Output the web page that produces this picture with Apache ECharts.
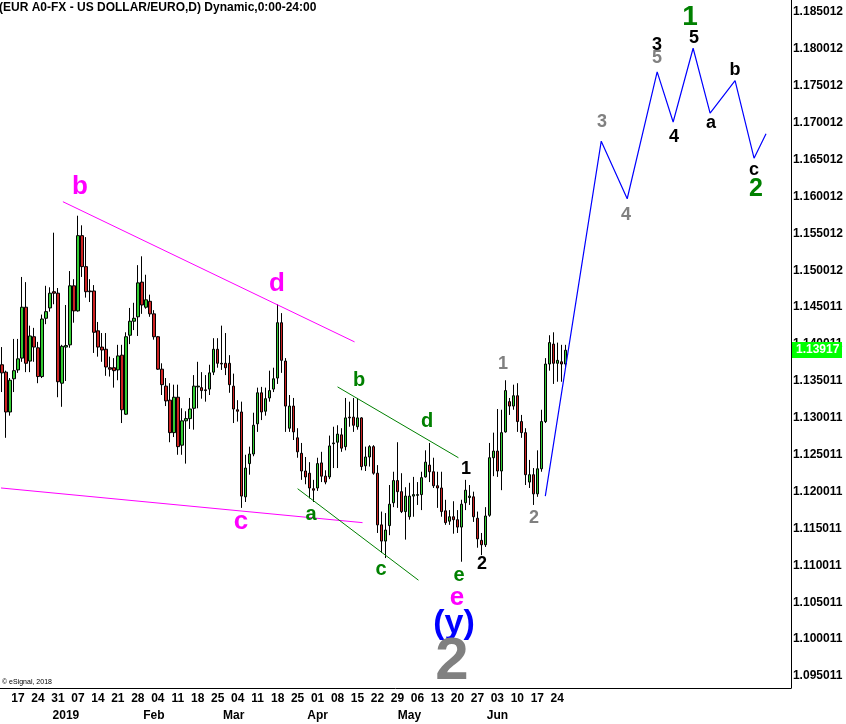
<!DOCTYPE html>
<html><head><meta charset="utf-8">
<script src="https://cdn.jsdelivr.net/npm/echarts@6/dist/echarts.min.js"></script>
<style>html,body{margin:0;padding:0;background:#fff}#c{width:846px;height:724px}</style>
</head><body><div id="c"></div>
<script>
// ---- DATA ----
// daily EUR/USD candles, Dec 11 2018 .. Jun 26 2019: [open, close, low, high]
const eurusdOHLC = [
[1.1372,1.1361,1.1335,1.1396],[1.1362,1.1308,1.1273,1.1364],[1.1308,1.1351,1.1303,1.1354],[1.1353,1.1364,1.1335,1.1407],
[1.1365,1.1380,1.1361,1.1407],[1.1381,1.1450,1.1376,1.1491],[1.1450,1.1374,1.1362,1.1484],[1.1377,1.1411,1.1362,1.1425],
[1.1410,1.1396,1.1376,1.1422],[1.1395,1.1356,1.1347,1.1403],[1.1356,1.1434,1.1354,1.1440],[1.1435,1.1444,1.1427,1.1479],
[1.1449,1.1469,1.1444,1.1477],[1.1471,1.1469,1.1454,1.1551],[1.1469,1.1349,1.1328,1.1476],[1.1347,1.1397,1.1315,1.1399],
[1.1396,1.1398,1.1350,1.1453],[1.1399,1.1479,1.1395,1.1499],[1.1479,1.1445,1.1429,1.1488],[1.1445,1.1547,1.1444,1.1574],
[1.1547,1.1505,1.1491,1.1561],[1.1505,1.1471,1.1463,1.1545],[1.1472,1.1471,1.1457,1.1488],[1.1472,1.1416,1.1388,1.1480],
[1.1418,1.1396,1.1383,1.1430],[1.1396,1.1392,1.1376,1.1415],[1.1393,1.1369,1.1357,1.1415],[1.1368,1.1366,1.1356,1.1383],
[1.1368,1.1364,1.1341,1.1381],[1.1365,1.1384,1.1351,1.1399],[1.1385,1.1311,1.1293,1.1399],[1.1305,1.1410,1.1304,1.1416],
[1.1412,1.1431,1.1400,1.1449],[1.1431,1.1435,1.1419,1.1456],[1.1437,1.1483,1.1411,1.1507],[1.1484,1.1453,1.1441,1.1519],
[1.1450,1.1460,1.1448,1.1494],[1.1458,1.1441,1.1437,1.1467],[1.1441,1.1410,1.1406,1.1446],[1.1410,1.1366,1.1365,1.1411],
[1.1366,1.1345,1.1331,1.1374],[1.1343,1.1323,1.1316,1.1354],[1.1324,1.1280,1.1267,1.1347],[1.1280,1.1328,1.1274,1.1345],
[1.1328,1.1261,1.1250,1.1345],[1.1263,1.1296,1.1250,1.1313],[1.1296,1.1299,1.1238,1.1309],[1.1299,1.1312,1.1285,1.1327],
[1.1313,1.1343,1.1284,1.1358],[1.1342,1.1343,1.1313,1.1376],[1.1341,1.1337,1.1326,1.1362],[1.1338,1.1337,1.1322,1.1358],
[1.1339,1.1361,1.1331,1.1372],[1.1362,1.1393,1.1358,1.1408],[1.1393,1.1374,1.1368,1.1408],[1.1374,1.1373,1.1365,1.1425],
[1.1374,1.1368,1.1358,1.1415],[1.1374,1.1345,1.1334,1.1385],[1.1343,1.1312,1.1293,1.1360],[1.1311,1.1309,1.1295,1.1324],
[1.1308,1.1194,1.1178,1.1322],[1.1193,1.1232,1.1186,1.1250],[1.1238,1.1251,1.1223,1.1261],[1.1251,1.1290,1.1248,1.1307],
[1.1292,1.1334,1.1281,1.1341],[1.1334,1.1308,1.1297,1.1342],[1.1309,1.1326,1.1303,1.1341],[1.1327,1.1337,1.1322,1.1364],
[1.1339,1.1353,1.1335,1.1368],[1.1354,1.1429,1.1346,1.1454],[1.1429,1.1378,1.1361,1.1442],[1.1377,1.1316,1.1281,1.1381],
[1.1286,1.1316,1.1281,1.1331],[1.1316,1.1281,1.1270,1.1327],[1.1273,1.1254,1.1246,1.1286],[1.1252,1.1228,1.1216,1.1266],
[1.1228,1.1220,1.1210,1.1247],[1.1225,1.1205,1.1191,1.1240],[1.1204,1.1202,1.1186,1.1216],[1.1205,1.1238,1.1201,1.1246],
[1.1239,1.1221,1.1213,1.1254],[1.1221,1.1213,1.1210,1.1229],[1.1220,1.1262,1.1217,1.1276],[1.1265,1.1266,1.1232,1.1288],
[1.1267,1.1278,1.1232,1.1290],[1.1277,1.1259,1.1254,1.1286],[1.1261,1.1300,1.1256,1.1327],[1.1301,1.1300,1.1288,1.1322],
[1.1301,1.1290,1.1281,1.1327],[1.1288,1.1300,1.1284,1.1327],[1.1300,1.1234,1.1229,1.1301],[1.1235,1.1247,1.1228,1.1261],
[1.1247,1.1261,1.1234,1.1263],[1.1261,1.1225,1.1223,1.1263],[1.1225,1.1155,1.1144,1.1236],[1.1155,1.1133,1.1117,1.1173],
[1.1133,1.1148,1.1110,1.1171],[1.1154,1.1183,1.1141,1.1209],[1.1185,1.1215,1.1179,1.1227],[1.1215,1.1200,1.1178,1.1267],
[1.1200,1.1173,1.1171,1.1225],[1.1173,1.1194,1.1135,1.1206],[1.1166,1.1194,1.1162,1.1212],[1.1194,1.1196,1.1166,1.1220],
[1.1195,1.1196,1.1182,1.1213],[1.1196,1.1219,1.1175,1.1227],[1.1220,1.1240,1.1219,1.1256],[1.1236,1.1227,1.1213,1.1266],
[1.1227,1.1208,1.1205,1.1246],[1.1208,1.1205,1.1178,1.1227],[1.1205,1.1173,1.1166,1.1227],[1.1174,1.1158,1.1155,1.1189],
[1.1160,1.1166,1.1155,1.1175],[1.1166,1.1162,1.1143,1.1187],[1.1162,1.1152,1.1144,1.1175],[1.1152,1.1183,1.1105,1.1189],
[1.1185,1.1202,1.1175,1.1216],[1.1192,1.1194,1.1182,1.1209],[1.1193,1.1166,1.1159,1.1200],[1.1164,1.1136,1.1124,1.1173],
[1.1134,1.1128,1.1114,1.1144],[1.1128,1.1167,1.1125,1.1179],[1.1168,1.1246,1.1166,1.1266],[1.1246,1.1255,1.1221,1.1280],
[1.1255,1.1228,1.1220,1.1312],[1.1228,1.1280,1.1202,1.1311],[1.1281,1.1337,1.1280,1.1351],[1.1322,1.1316,1.1304,1.1327],
[1.1316,1.1330,1.1311,1.1345],[1.1330,1.1295,1.1281,1.1347],[1.1295,1.1280,1.1273,1.1304],[1.1280,1.1223,1.1209,1.1286],
[1.1213,1.1223,1.1205,1.1243],[1.1223,1.1197,1.1182,1.1232],[1.1197,1.1231,1.1193,1.1256],[1.1231,1.1295,1.1227,1.1311],
[1.1295,1.1373,1.1293,1.1381],[1.1373,1.1402,1.1364,1.1412],[1.1400,1.1374,1.1346,1.1416],[1.1374,1.1378,1.1349,1.1402],
[1.1376,1.1373,1.1349,1.1399],[1.1373,1.13917,1.1369,1.1399]
];
const lastPrice = 1.13917;
// forecast path (bar index, price)
const forecastPath = [[136,1.1194],[150,1.1675],[156.5,1.1597],[164,1.1769],[168,1.1701],[173,1.1801],[177.25,1.1713],[183.5,1.1757],[188.25,1.1652],[191.25,1.1685]];
// trend lines (bar index, price)
const magentaUpper = [[15.25,1.1593],[88.25,1.1403]];
const magentaLower = [[-0.25,1.1205],[90.25,1.1158]];
const greenUpper = [[84,1.1342],[114.25,1.1246]];
const greenLower = [[74,1.1204],[104.25,1.1080]];
// tick labels
const yTickLabels = ['1.095011','1.100011','1.105011','1.110011','1.115011','1.120011','1.125011','1.130011','1.135011','1.140011','1.145011','1.150012','1.155012','1.160012','1.165012','1.170012','1.175012','1.180012','1.185012'];
const dayTickLabels = ['17','24','31','07','14','21','28','04','11','18','25','04','11','18','25','01','08','15','22','29','06','13','20','27','03','10','17','24'];
const monthTickDates = ['2019-01-02','2019-02-01','2019-03-01','2019-04-01','2019-05-02','2019-06-03'];
const monthTickLabels = ['2019','Feb','Mar','Apr','May','Jun'];

// ---- categories: weekdays from Dec 11 2018, extra future slots for the forecast ----
const N = 198;
const categories = [];
(function(){const d=new Date(Date.UTC(2018,11,11));while(categories.length<N){const w=d.getUTCDay();if(w>0&&w<6)categories.push(d.toISOString().slice(0,10));d.setUTCDate(d.getUTCDate()+1);}})();
const dayLabelAt = {};
(function(){let k=0;for(let i=0;i<eurusdOHLC.length;i++){const d=new Date(categories[i]+'T00:00:00Z');if(d.getUTCDay()===1&&k<dayTickLabels.length){dayLabelAt[i]=dayTickLabels[k++];}}})();
const monthLabelAt = {};
monthTickDates.forEach((d,j)=>{const i=categories.indexOf(d); if(i>=0) monthLabelAt[i]=monthTickLabels[j];});

// ---- layout ----
const GL=-1, GW=N*4, PLOT_H=688;
const PX_PER_UNIT = 7378, REF_Y=12, REF_V=1.185012;
const Y_MAX = REF_V + REF_Y/PX_PER_UNIT;
const Y_MIN = REF_V - (PLOT_H-REF_Y)/PX_PER_UNIT;
const FONT='"Liberation Sans", Arial, sans-serif';

const chart = echarts.init(document.getElementById('c'));
function trend(data,color,width){return {type:'line',xAxisIndex:2,yAxisIndex:0,data:data,symbol:'none',silent:true,lineStyle:{color:color,width:width||1},z:3};}
chart.setOption({
  animation:false,
  backgroundColor:'#fff',
  textStyle:{fontFamily:FONT},
  grid:[{left:GL,top:0,width:GW,height:PLOT_H},{left:GL,top:REF_Y,width:GW,height:664}],
  xAxis:[
    {type:'category',gridIndex:0,data:categories,boundaryGap:true,
     axisLine:{onZero:false,lineStyle:{color:'#000',width:1}},axisTick:{show:false},splitLine:{show:false},
     axisLabel:{interval:(i)=>dayLabelAt[i]!==undefined,formatter:(v,i)=>dayLabelAt[i]||'',color:'#000',fontWeight:'bold',fontSize:12,margin:5,fontFamily:FONT}},
    {type:'category',gridIndex:0,data:categories,boundaryGap:true,position:'bottom',offset:17,
     axisLine:{show:false,onZero:false},axisTick:{show:false},splitLine:{show:false},
     axisLabel:{interval:(i)=>monthLabelAt[i]!==undefined,formatter:(v,i)=>monthLabelAt[i]||'',color:'#000',fontWeight:'bold',fontSize:12,margin:5,fontFamily:FONT}},
    {type:'value',gridIndex:0,min:-0.5,max:N-0.5,show:false,axisLine:{onZero:false}},
    {type:'value',gridIndex:1,min:0,max:1,show:false,axisLine:{onZero:false}}
  ],
  yAxis:[
    {type:'value',gridIndex:0,min:Y_MIN,max:Y_MAX,position:'right',scale:true,
     axisLine:{show:true,onZero:false,lineStyle:{color:'#000',width:1}},axisTick:{show:false},axisLabel:{show:false},splitLine:{show:false}},
    {type:'value',gridIndex:1,min:1.095,max:1.185,interval:0.005,position:'right',
     axisLine:{show:false,onZero:false},axisTick:{show:false},splitLine:{show:false},
     axisLabel:{color:'#000',fontWeight:'bold',fontSize:12,margin:6,fontFamily:FONT,
       formatter:(v)=>yTickLabels[Math.round((v-1.095)/0.005)]||''}}
  ],
  series:[
    {type:'candlestick',xAxisIndex:0,yAxisIndex:0,data:eurusdOHLC,barWidth:3,
     itemStyle:{color:'#33cc33',color0:'#cc2222',borderColor:'#000',borderColor0:'#000',borderColorDoji:'#000',borderWidth:1}},
    trend(magentaUpper,'#ff00ff'),
    trend(magentaLower,'#ff00ff'),
    trend(greenUpper,'#008000'),
    trend(greenLower,'#008000'),
    trend(forecastPath,'#0000ff',1.2)
  ]
});

// ---- annotations (text) ----
const M='#ff00ff',G='#008000',K='#000000',S='#808080',B='#0000ff';
const annotationLayout = [
  ['b',80,187,M,26],['d',277,284,M,26],['c',241,522,M,26],['e',457,598,M,26],
  ['(y)',454,624,B,34],['2',452,662,S,60],
  ['a',311,514,G,20],['b',359,380,G,20],['c',381,569,G,20],['d',427,421,G,20],['e',459,575,G,20],
  ['1',466,469,K,18],['2',482,564,K,18],
  ['1',503,364,S,18],['2',534,518,S,18],['3',602,122,S,18],['4',626,215,S,18],['5',657,58,S,18],
  ['3',657,45,K,18],['4',674,137,K,18],['5',694,38,K,18],['a',711,123,K,18],['b',735,70,K,18],['c',754,170,K,18],
  ['1',690,17,G,28],['2',756,189,G,25]
];
const graphics = annotationLayout.map(a=>({type:'text',z:50,silent:true,style:{text:a[0],x:a[1],y:a[2],fill:a[3],
  font:'bold '+a[4]+'px '+FONT,align:'center',verticalAlign:'middle',textAlign:'center',textVerticalAlign:'middle'}}));
graphics.push({type:'text',z:50,silent:true,style:{text:'(EUR A0-FX - US DOLLAR/EURO,D) Dynamic,0:00-24:00',x:-1,y:8,fill:'#000',
  font:'bold 12px '+FONT,align:'left',verticalAlign:'middle',textAlign:'left',textVerticalAlign:'middle'}});
graphics.push({type:'text',z:50,silent:true,style:{text:'© eSignal, 2018',x:2,y:682,fill:'#000',
  font:'7px '+FONT,align:'left',verticalAlign:'middle',textAlign:'left',textVerticalAlign:'middle'}});
const py = chart.convertToPixel({yAxisIndex:0}, lastPrice);
graphics.push({type:'rect',z:60,silent:true,shape:{x:792,y:Math.round(py)-8,width:50,height:16},style:{fill:'#00ff00'}});
graphics.push({type:'text',z:61,silent:true,style:{text:lastPrice.toFixed(5),x:796,y:Math.round(py),fill:'#ffffff',
  font:'bold 12px '+FONT,align:'left',verticalAlign:'middle',textAlign:'left',textVerticalAlign:'middle'}});
chart.setOption({graphic:graphics});
</script></body></html>
